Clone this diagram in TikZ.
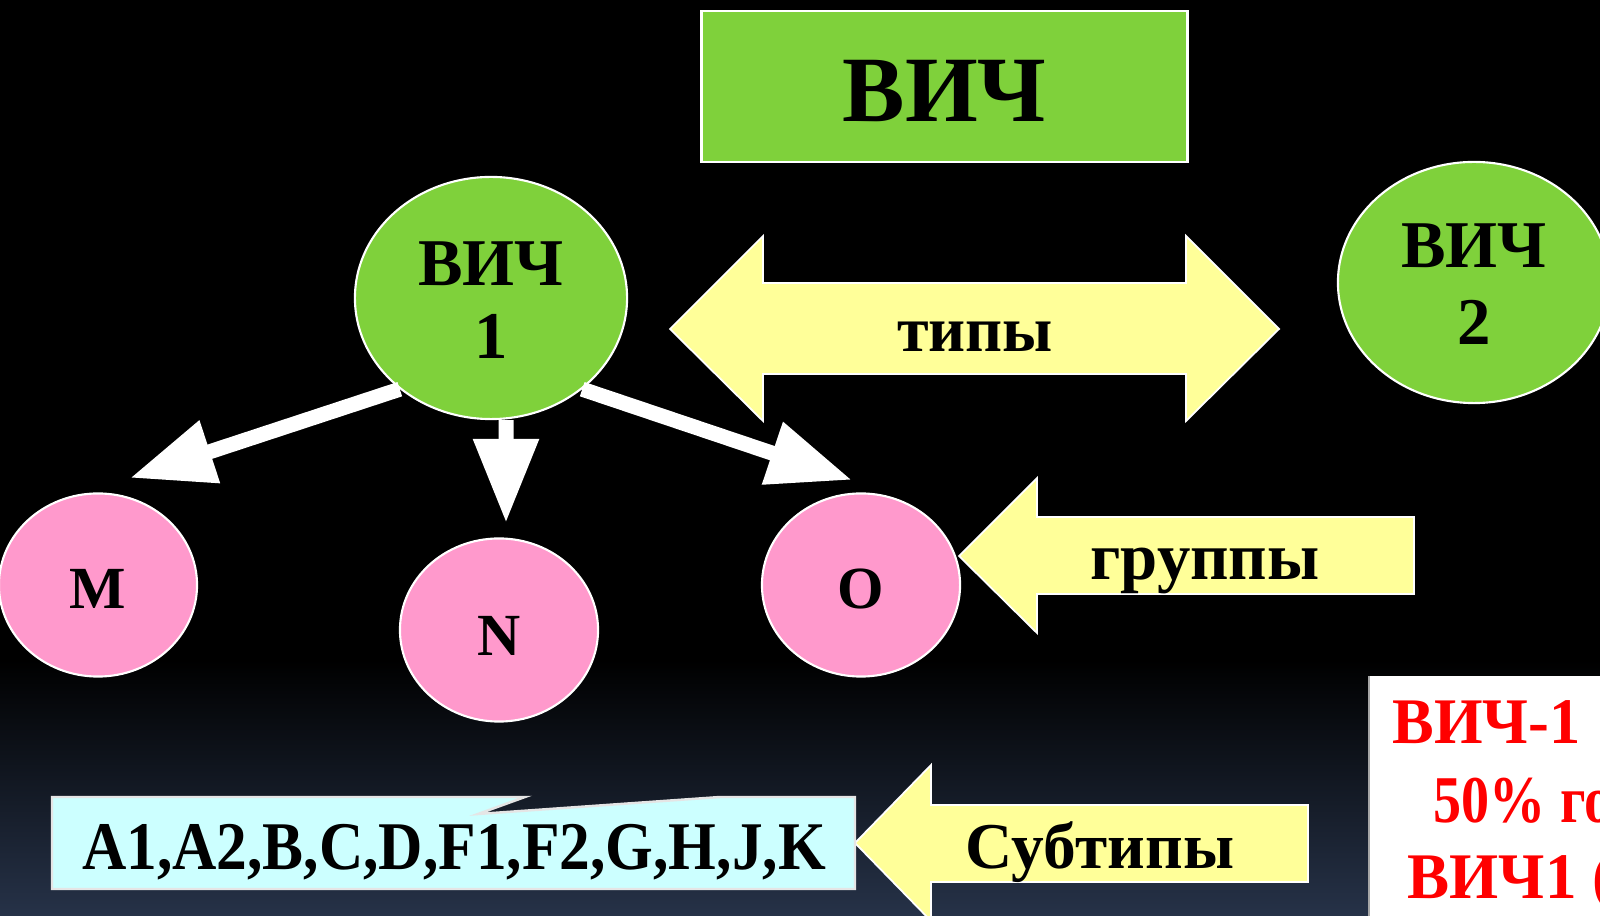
\documentclass[tikz,border=0pt]{standalone}
\usepackage{fontspec}
\setmainfont{Liberation Serif}
\usetikzlibrary{shapes.geometric,arrows.meta}
\definecolor{vgreen}{HTML}{7FD13B}
\definecolor{vpink}{HTML}{FF99CC}
\definecolor{vyellow}{HTML}{FFFF99}
\definecolor{vcyan}{HTML}{CCFFFF}
\definecolor{bgbottom}{RGB}{38,50,72}
\newcommand{\fsz}[1]{\fontsize{#1}{#1}\selectfont\bfseries}
\begin{document}
\begin{tikzpicture}[x=0.01cm,y=-0.01cm,
  blob/.style={ellipse, draw=white, line width=0.6pt, inner sep=0pt},
  lbl/.style={anchor=base, inner sep=0pt, text=black},
  blockarrow/.style={fill=vyellow, draw=white, line width=0.5pt},
  warrow/.style={draw=white, line width=0.15cm, -{Triangle[length=0.84cm,width=0.62cm]}},
  redtxt/.style={anchor=base west, inner sep=0pt, text=red}
]
\useasboundingbox (0,0) rectangle (1600,916);
\begin{scope}
\clip (0,0) rectangle (1600,916);
\fill[black] (0,0) rectangle (1600,916);
\shade[top color=black,bottom color=bgbottom] (0,660) rectangle (1600,916);

% title
\node[draw=white, line width=0.8pt, fill=vgreen, minimum width=4.85cm, minimum height=1.51cm, inner sep=0pt] (title) at (944.5,86.5) {};
\node[lbl] (titletext) at (944.5,122) {\fsz{26.6}ВИЧ};

% HIV-1
\node[blob, fill=vgreen, minimum width=2.72cm, minimum height=2.42cm] (v1) at (491,298) {};
\node[lbl] (v1a) at (491,286) {\fsz{19}ВИЧ};
\node[lbl] (v1b) at (491,359) {\fsz{19}1};

% HIV-2
\node[blob, fill=vgreen, minimum width=2.72cm, minimum height=2.41cm] (v2) at (1474,282.5) {};
\node[lbl] (v2a) at (1474,268) {\fsz{19}ВИЧ};
\node[lbl] (v2b) at (1474,345) {\fsz{19}2};

% double arrow
\draw[blockarrow] (670,329) -- (763,236) -- (763,283) -- (1186,283) -- (1186,236) -- (1279,329) -- (1186,421) -- (1186,374) -- (763,374) -- (763,421) -- cycle;
\node[lbl] (types) at (975,352) {\fsz{18.3}типы};

% groups
\node[blob, fill=vpink, minimum width=1.98cm, minimum height=1.83cm] (gm) at (98,585) {};
\node[lbl] (gmt) at (98,609) {\fsz{17}M};
\node[blob, fill=vpink, minimum width=1.98cm, minimum height=1.83cm] (gn) at (499,630) {};
\node[lbl] (gnt) at (499,656) {\fsz{17}N};
\node[blob, fill=vpink, minimum width=1.98cm, minimum height=1.83cm] (go) at (861,585) {};
\node[lbl] (got) at (861,609) {\fsz{17}O};

% white arrows
\coordinate (tipM) at (130,478);
\coordinate (tipN) at (506,523);
\coordinate (tipO) at (852,480);
\coordinate (v1n) at ([xshift=0.15cm]v1.south);
\draw[warrow] (v1.225) -- (tipM);
\draw[warrow] (v1n) -- (tipN);
\draw[warrow] (v1.-45) -- (tipO);

% groups arrow
\draw[blockarrow] (959,556) -- (1037,478) -- (1037,517) -- (1414,517) -- (1414,594) -- (1037,594) -- (1037,633) -- cycle;
\node[lbl] (groups) at (1205,580) {\fsz{19}группы};

% subtypes arrow
\draw[blockarrow] (855,843) -- (931,765) -- (931,805) -- (1308,805) -- (1308,882) -- (931,882) -- (931,921) -- cycle;
\node[lbl] (subtypes) at (1100,868) {\fsz{18.6}Субтипы};

% cyan callout
\draw[fill=vcyan, draw=white!80!gray, line width=0.7pt] (52,797) -- (525,797) -- (478,814) -- (720,797) -- (855,797) -- (855,889) -- (52,889) -- cycle;
\node[lbl] (subs) at (454,869) {\fsz{19.4}\scalebox{0.9}[1]{A1,A2,B,C,D,F1,F2,G,H,J,K}};

% red box
\fill[white] (1369,676) rectangle (1610,926);
\draw[gray!70, line width=0.8pt] (1369,926) -- (1369,676);
\node[redtxt] (r1) at (1392,744) {\fsz{18.5}\scalebox{0.96}[1]{ВИЧ-1}};
\node[redtxt] (r2) at (1433,822) {\fsz{19}\scalebox{0.84}[1]{50\% го}};
\node[redtxt] (r3) at (1407,898) {\fsz{18.5}\scalebox{0.97}[1]{ВИЧ1 (}};
\end{scope}
\end{tikzpicture}
\end{document}
